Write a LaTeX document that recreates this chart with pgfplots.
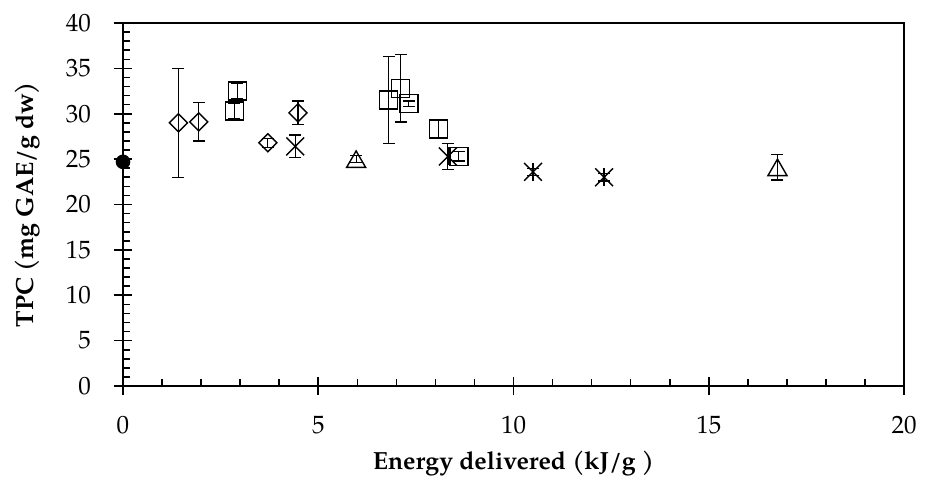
\documentclass[border=0pt]{standalone}
\usepackage{fontspec}
\setmainfont{TeX Gyre Pagella}
\usepackage{pgfplots}
\pgfplotsset{compat=1.18}

\begin{document}
\begin{tikzpicture}
\begin{axis}[
  scale only axis, width=390.5pt, height=181.5pt,
  xmin=0, xmax=20, ymin=0, ymax=40,
  xtick={0,5,...,20}, ytick={0,5,...,40},
  minor x tick num=4, minor y tick num=4,
  tick align=center, major tick length=9pt, minor tick length=3.5pt,
  minor x tick style={yshift=1.75pt}, minor y tick style={xshift=1.75pt},
  xtick pos=bottom, ytick pos=left,
  axis line style={line width=0.8pt},
  tick style={black, line width=0.8pt},
  /pgf/number format/assume math mode=true,
  ticklabel style={font=\fontsize{12.5}{14}\selectfont},
  xticklabel style={yshift=-7pt},
  yticklabel style={xshift=-8pt},
  xlabel={\textbf{Energy delivered (kJ/g )}},
  ylabel={\textbf{TPC (mg GAE/g dw)}},
  label style={font=\fontsize{12.4}{14}\selectfont},
  xlabel style={at={(axis description cs:0.5,-0.231)}, anchor=base},
  ylabel style={at={(axis description cs:-0.115,0.5)}, anchor=base},
  clip=false,
  every axis plot/.append style={black, line width=0.7pt},
  error bars/error bar style={line width=0.6pt},
  error bars/error mark options={rotate=90, mark size=3pt, line width=0.6pt},
]
% diamonds
\addplot[only marks, mark=square, mark size=3.2pt, mark options={rotate=45, fill=none},
  error bars/.cd, y dir=both, y explicit]
  coordinates {(1.42,29.0) +- (0,6.0) (1.94,29.1) +- (0,2.1) (3.71,26.8) +- (0,0.5) (4.48,30.1) +- (0,1.3)};
% squares
\addplot[only marks, mark=square, mark size=4.5pt, mark options={fill=none},
  error bars/.cd, y dir=both, y explicit]
  coordinates {(2.85,30.3) +- (0,0.8) (2.93,32.5) +- (0,0.8) (6.80,31.5) +- (0,4.8) (7.11,32.8) +- (0,3.7)
               (7.32,31.1) +- (0,0.3) (8.08,28.3) +- (0,0.95) (8.60,25.3) +- (0,0.5)};
% asterisks (x with a vertical stroke)
\addplot[only marks, mark=x, mark size=6.3pt,
  error bars/.cd, y dir=both, y explicit]
  coordinates {(4.41,26.4) +- (0,1.25) (8.32,25.3) +- (0,1.4) (10.50,23.6) +- (0,0.4) (12.32,23.0) +- (0,0.4)};
\addplot[only marks, mark=|, mark size=4.5pt]
  coordinates {(4.41,26.4) (8.32,25.3) (10.50,23.6) (12.32,23.0)};
% triangles
\addplot[only marks, mark=triangle, mark size=5.5pt, mark options={fill=none, yshift=-1.4pt},
  error bars/.cd, y dir=both, y explicit]
  coordinates {(5.97,25.0) +- (0,0.4) (16.76,24.1) +- (0,1.4)};
% control
\addplot[only marks, mark=*, mark size=3.3pt, mark options={fill=black}]
  coordinates {(0,24.7)};
\draw[line width=0.6pt] (rel axis cs:0,1) -- (rel axis cs:1,1) -- (rel axis cs:1,0);
\end{axis}
\pgfresetboundingbox
\path (current axis.south west) ++(-61.5pt,-48.5pt) rectangle ++(463.5pt,241.5pt);
\end{tikzpicture}
\end{document}
